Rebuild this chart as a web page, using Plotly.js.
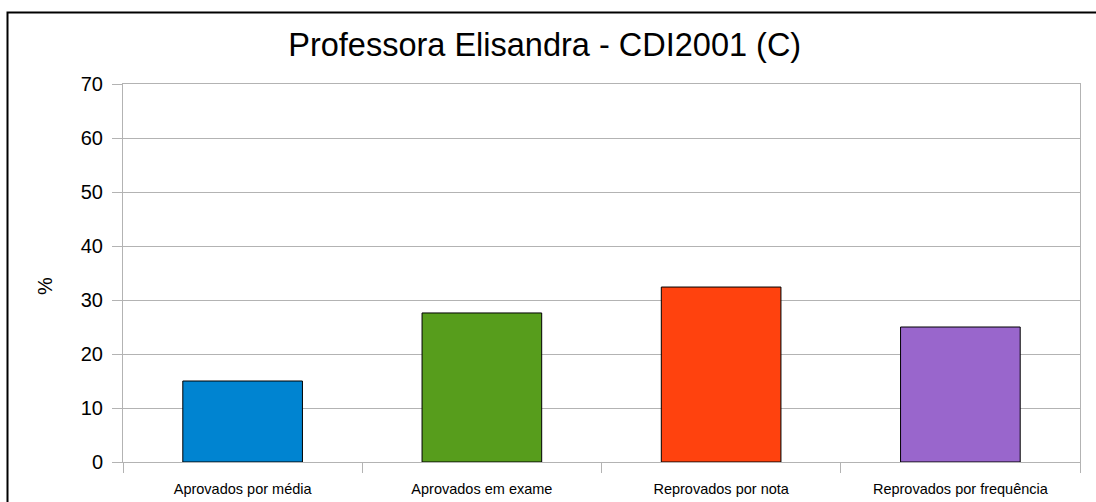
<!DOCTYPE html>
<html>
<head>
<meta charset="utf-8">
<script src="https://cdn.plot.ly/plotly-3.0.1.min.js"></script>
<style>
html,body{margin:0;padding:0;background:#fff;}
#chart{width:1096px;height:502px;}
</style>
</head>
<body>
<div id="chart"></div>
<script>
const categories = ["Aprovados por média", "Aprovados em exame", "Reprovados por nota", "Reprovados por frequência"];
const values = [15.0, 27.6, 32.4, 25.0];
const barColors = ["#0084d1", "#579d1c", "#ff420e", "#9966cc"];
const yTicks = [0, 10, 20, 30, 40, 50, 60, 70];

const trace = {
  type: "bar",
  x: categories,
  y: values,
  marker: {color: barColors, line: {color: "#000000", width: 1}},
  hoverinfo: "x+y"
};

const FONT = "Liberation Sans, Arial, sans-serif";

const layout = {
  width: 1096,
  height: 502,
  margin: {l: 123, r: 16, t: 84, b: 40},
  paper_bgcolor: "#ffffff",
  plot_bgcolor: "#ffffff",
  font: {family: FONT, color: "#000000"},
  showlegend: false,
  bargap: 0.5,
  title: {
    text: "Professora Elisandra - CDI2001 (C)",
    font: {size: 32.5, family: FONT, color: "#000000"},
    x: 0.497, xanchor: "center", xref: "container",
    y: 1 - 45/502, yanchor: "middle", yref: "container"
  },
  xaxis: {
    type: "category",
    tickson: "boundaries",
    ticks: "outside",
    ticklen: 10,
    tickcolor: "#b3b3b3",
    tickfont: {size: 14.5, family: FONT},
    ticklabelstandoff: 14,
    showline: true,
    linecolor: "#b3b3b3",
    linewidth: 1,
    mirror: true,
    showgrid: false,
    fixedrange: true
  },
  yaxis: {
    range: [0, 70],
    tickvals: yTicks,
    ticktext: yTicks.map(String),
    ticks: "outside",
    ticklen: 10,
    tickcolor: "#b3b3b3",
    tickfont: {size: 20, family: FONT},
    ticklabelstandoff: 5,
    showline: true,
    linecolor: "#b3b3b3",
    linewidth: 1,
    mirror: true,
    showgrid: true,
    gridcolor: "#b3b3b3",
    gridwidth: 1,
    zeroline: true,
    zerolinecolor: "#b3b3b3",
    zerolinewidth: 1,
    fixedrange: true
  },
  annotations: [{
    text: "%",
    textangle: -90,
    xref: "paper", yref: "paper",
    x: (45 - 123) / 957, y: (462 - 286) / 378,
    xanchor: "center", yanchor: "middle",
    showarrow: false,
    font: {size: 20, family: FONT, color: "#000000"}
  }],
  shapes: [{
    type: "rect",
    xref: "paper", yref: "paper",
    x0: (7.5 - 123) / 957, x1: 1.2,
    y0: -0.3, y1: (462 - 12.5) / 378,
    line: {color: "#000000", width: 2},
    fillcolor: "rgba(0,0,0,0)",
    layer: "below"
  }]
};

Plotly.newPlot("chart", [trace], layout, {displayModeBar: false, staticPlot: true});
</script>
</body>
</html>
